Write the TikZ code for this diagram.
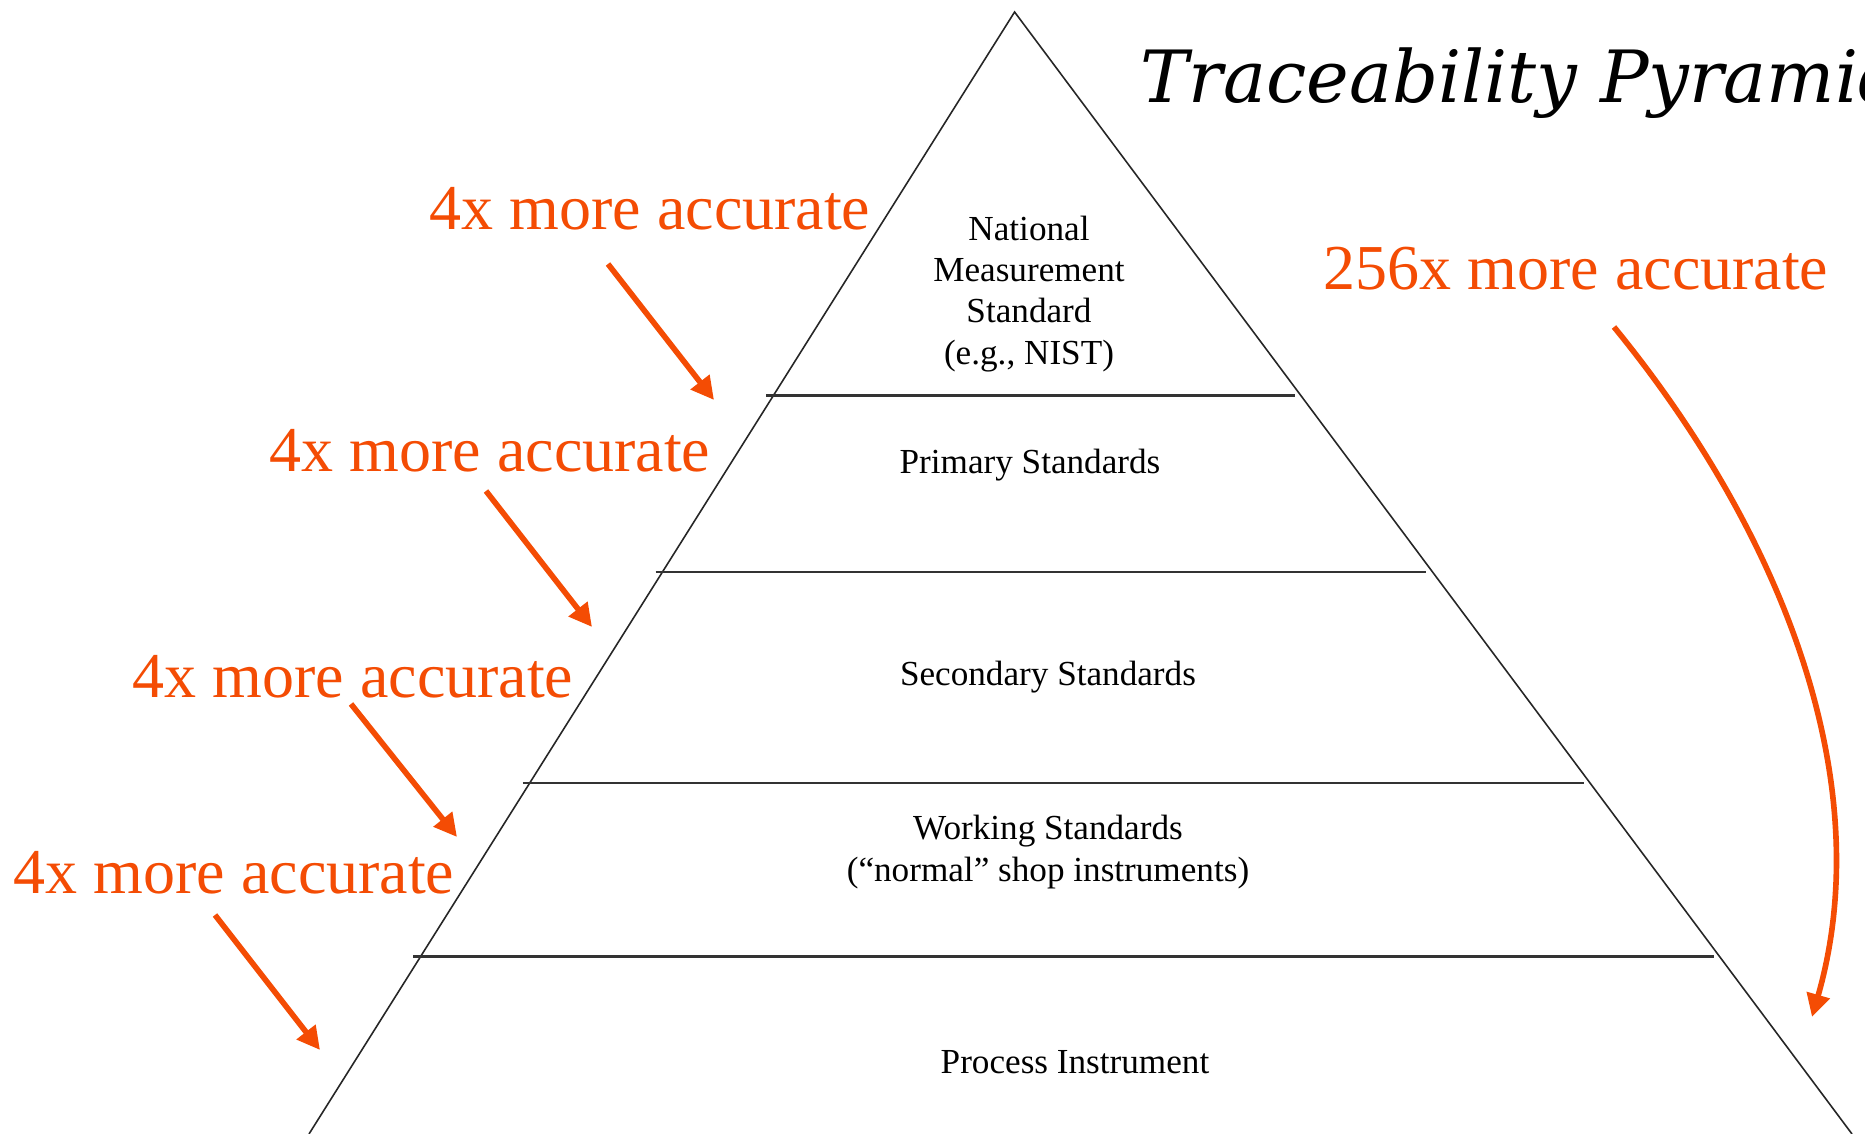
\documentclass[tikz,border=0pt]{standalone}
\usepackage{fontspec}
\setmainfont{Liberation Serif}
\newfontfamily\titlefont{DejaVu Serif}
\usetikzlibrary{arrows.meta,calc}
\definecolor{accred}{RGB}{244,76,4}

\begin{document}
\begin{tikzpicture}[
  x=0.01cm,y=-0.01cm,
  side/.style={black!85,line width=0.45pt},
  tier/.style={black!80,line width=0.7pt},
  lvl/.style={align=center,inner sep=0pt,font=\fontsize{10}{11.7}\selectfont},
  acc/.style={text=accred,inner sep=0pt,anchor=base,font=\fontsize{18.2}{22}\selectfont},
  gain/.style={-{Triangle[length=6.5pt,width=6.5pt]},accred,line width=1.6pt}
]
  \clip (0,0) rectangle (1865,1134);
  \fill[white] (0,0) rectangle (1865,1134);

  % pyramid outline and tiers
  \coordinate (apex) at (1014.6,12);
  \coordinate (bl) at (309,1134);
  \coordinate (br) at (1852,1134);
  \draw[side] (bl)--(apex)--(br);
  \foreach \t in {0.342,0.499,0.687,0.842}
    \draw[tier] ($(apex)!\t!(bl)+(-7,0)$)--($(apex)!\t!(br)+(-6,0)$);

  \node[lvl] (nat) at (1029,294) {National\\Measurement\\Standard\\(e.g., NIST)};
  \node[lvl] (prim) at (1030,465) {Primary Standards};
  \node[lvl] (sec) at (1048,677) {Secondary Standards};
  \node[lvl] (work) at (1048,852) {Working Standards\\(``normal'' shop instruments)};
  \node[lvl] (proc) at (1075,1062) {Process Instrument};

  \node[anchor=base west,inner sep=0pt,font=\titlefont\itshape\fontsize{20.5}{24}\selectfont]
    (title) at (1140,103) {Traceability Pyramid};

  % accuracy steps
  \node[acc] (a1) at (650,230) {4x more accurate};
  \node[acc] (a2) at (490,472) {4x more accurate};
  \node[acc] (a3) at (353,698) {4x more accurate};
  \node[acc] (a4) at (234,894) {4x more accurate};
  \node[acc] (a5) at (1576,290) {256x more accurate};

  \foreach \i/\sx/\sy/\ex/\ey in {1/608/264/714/400,2/486/491/592/627,3/351/704/457/837,4/215/915/320/1050}{
    \coordinate (s\i) at (\sx,\sy);
    \coordinate (e\i) at (\ex,\ey);
    \draw[gain] (s\i)--(e\i);
  }
  \coordinate (s5) at (1614,327);
  \coordinate (e5) at (1812,1017);
  \draw[gain] (s5) .. controls (1780,530) and (1880,780) .. (e5);
\end{tikzpicture}
\end{document}
